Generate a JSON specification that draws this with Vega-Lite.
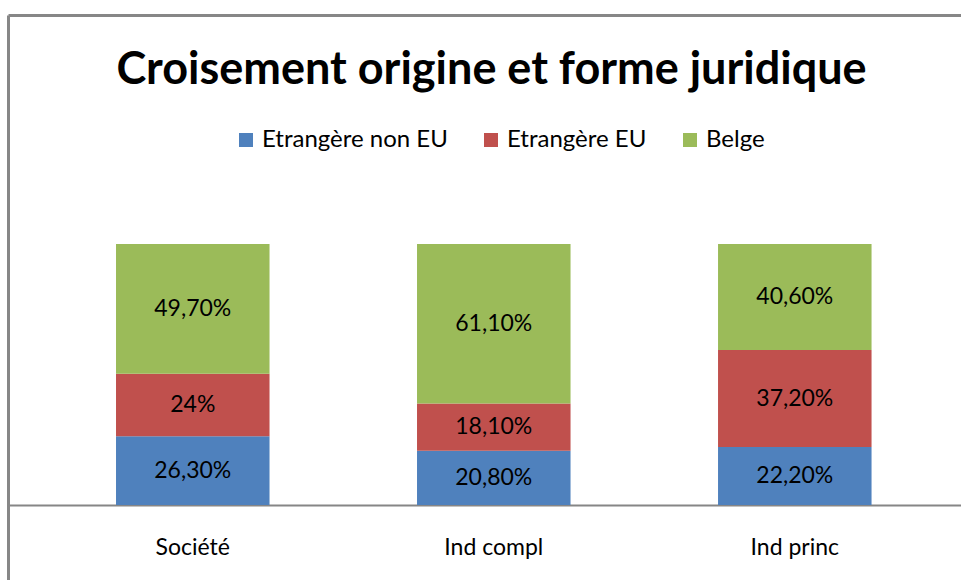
{
  "$schema": "https://vega.github.io/schema/vega-lite/v6.json",
  "width": 953,
  "height": 565,
  "padding": {"left": 8, "top": 15, "right": 0, "bottom": 0},
  "autosize": {"type": "none"},
  "background": "white",
  "config": {"view": {"stroke": null}, "font": "Lato"},
  "title": {"text": "Croisement origine et forme juridique", "font": "Lato", "fontSize": 45, "fontWeight": "bold", "color": "black", "anchor": "middle", "baseline": "alphabetic", "offset": 0, "dy": 114, "dx": 7},
  "data": {"values": [
    {"forme": "Société", "origine": "Etrangère non EU", "ord": 1, "value": 26.3, "label": "26,30%"},
    {"forme": "Société", "origine": "Etrangère EU", "ord": 2, "value": 24.0, "label": "24%"},
    {"forme": "Société", "origine": "Belge", "ord": 3, "value": 49.7, "label": "49,70%"},
    {"forme": "Ind compl", "origine": "Etrangère non EU", "ord": 1, "value": 20.8, "label": "20,80%"},
    {"forme": "Ind compl", "origine": "Etrangère EU", "ord": 2, "value": 18.1, "label": "18,10%"},
    {"forme": "Ind compl", "origine": "Belge", "ord": 3, "value": 61.1, "label": "61,10%"},
    {"forme": "Ind princ", "origine": "Etrangère non EU", "ord": 1, "value": 22.2, "label": "22,20%"},
    {"forme": "Ind princ", "origine": "Etrangère EU", "ord": 2, "value": 37.2, "label": "37,20%"},
    {"forme": "Ind princ", "origine": "Belge", "ord": 3, "value": 40.6, "label": "40,60%"}
  ]},
  "transform": [
    {"stack": "value", "groupby": ["forme"], "sort": [{"field": "ord", "order": "ascending"}], "as": ["v0", "v1"]},
    {"calculate": "(datum.v0 + datum.v1) / 2", "as": "vm"}
  ],
  "resolve": {"axis": {"x": "independent"}},
  "layer": [
    {
      "mark": {"type": "bar"},
      "encoding": {
        "x": {
          "field": "forme", "type": "nominal", "sort": ["Société", "Ind compl", "Ind princ"],
          "scale": {"paddingInner": 0.49, "paddingOuter": 0.328, "align": 0.547},
          "axis": {"title": null, "orient": "bottom", "offset": -75, "ticks": false, "labelAngle": 0, "labelFontSize": 23, "labelFont": "Lato", "labelColor": "black", "labelPadding": 31, "domainColor": "#868686", "domainWidth": 2, "grid": false}
        },
        "y": {"field": "v0", "type": "quantitative", "scale": {"domain": [-28.74, 187.74], "nice": false, "zero": false},
          "axis": {"title": null, "orient": "left", "labels": false, "ticks": false, "grid": false, "domainColor": "#878787", "domainWidth": 3}},
        "y2": {"field": "v1"},
        "color": {
          "field": "origine", "type": "nominal",
          "scale": {"domain": ["Etrangère non EU", "Etrangère EU", "Belge"], "range": ["#4F81BD", "#C0504D", "#9BBB59"]},
          "legend": {"orient": "none", "legendX": 226, "legendY": 113, "padding": 0, "direction": "horizontal", "title": null, "symbolType": "square", "symbolSize": 196, "symbolStrokeWidth": 0, "labelFontSize": 24, "labelFont": "Lato", "labelColor": "black", "labelLimit": 400, "columnPadding": 31, "labelOffset": 4}
        }
      }
    },
    {
      "mark": {"type": "text", "fontSize": 23, "font": "Lato", "color": "black"},
      "encoding": {
        "x": {
          "field": "forme", "type": "nominal", "sort": ["Société", "Ind compl", "Ind princ"],
          "axis": {"title": null, "orient": "top", "labels": false, "ticks": false, "grid": false, "domainColor": "#878787", "domainWidth": 3}
        },
        "y": {"field": "vm", "type": "quantitative"},
        "text": {"field": "label"}
      }
    }
  ]
}
